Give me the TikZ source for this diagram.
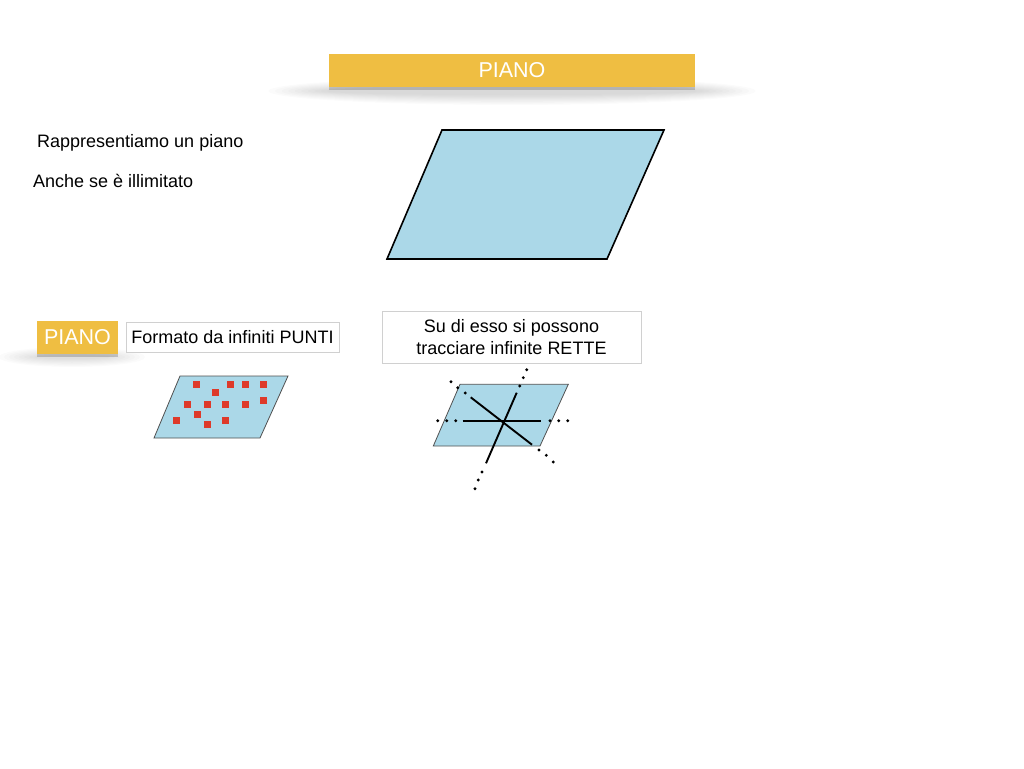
\documentclass[tikz,border=0pt]{standalone}
\usepackage{fontspec}
\setmainfont{Liberation Sans}
\definecolor{barorange}{RGB}{239,190,66}
\definecolor{planeblue}{RGB}{171,216,232}
\definecolor{planegray}{RGB}{80,80,80}
\definecolor{boxgray}{RGB}{208,208,208}
\definecolor{ptred}{RGB}{222,58,42}
\begin{document}
\begin{tikzpicture}[x=1pt,y=-1pt,
  orangebox/.style={fill=barorange, text=white, inner sep=0pt, font=\fontsize{21.5}{24}\selectfont},
  textbox/.style={draw=boxgray, line width=0.8pt, fill=white, font=\fontsize{18}{22}\selectfont, align=center, inner sep=0pt},
  plaintext/.style={anchor=base west, font=\fontsize{18}{22}\selectfont, inner sep=0pt},
  bigplane/.style={fill=planeblue, draw=black, line width=1.6pt, line join=miter},
  smallplane/.style={fill=planeblue, draw=planegray, line width=0.8pt},
  redpt/.style={fill=ptred, minimum size=7pt, inner sep=0pt},
  dotmark/.style={fill=black, circle, inner sep=0pt, minimum size=3.2pt},
  retta/.style={draw=black, line width=1.9pt}]
\useasboundingbox (0,0) rectangle (1024,768);
% title shadow
\foreach \i in {1,...,10}{
  \fill[black, opacity=0.014] (512,91) ellipse ({250-6.5*\i} and {15-1.1*\i});
}
\fill[black, opacity=0.18] (329,87) rectangle (695,89.5);
\node[orangebox, minimum width=366pt, minimum height=33pt] (title) at (512,70.5) {PIANO};

% texts
\node[plaintext] (t1) at (37,147) {Rappresentiamo un piano};
\node[plaintext] (t2) at (33,187) {Anche se è illimitato};

% big plane
\draw[bigplane] (442,130) -- (664,130) -- (607,259) -- (387,259) -- cycle;

% small PIANO label with shadow
\foreach \i in {1,...,8}{
  \fill[black, opacity=0.016] (72,357) ellipse ({78-5*\i} and {11-1.1*\i});
}
\fill[black, opacity=0.18] (37,354) rectangle (118,356.5);
\node[orangebox, minimum width=81pt, minimum height=33pt] (piano2) at (77.5,337.5) {PIANO};
\node[textbox, minimum width=213pt, minimum height=30pt] (punti) at (232.5,337) {Formato da infiniti PUNTI};
\node[textbox, minimum width=259pt, minimum height=52pt] (rette) at (511.5,337) {Su di esso si possono\\tracciare infinite RETTE};

% plane with points
\draw[smallplane] (180,376) -- (288,376) -- (260,438) -- (154,438) -- cycle;
\foreach \x/\y [count=\k] in {196.7/384, 230.7/384, 245/384, 263/384, 215.7/392,
  187.7/404.3, 207.7/404.3, 225.7/404.3, 245/404.3, 263/400.7,
  197.7/414.3, 176.7/420.7, 207.7/424, 225.7/420.7}{
  \node[redpt] (p\k) at (\x,\y) {};
}

% plane with lines
\draw[smallplane] (460,384.3) -- (568.3,384.3) -- (540,446) -- (433.3,446) -- cycle;
\coordinate (h1) at (462.7,420.7);
\coordinate (h2) at (540.7,420.7);
\coordinate (d1) at (470.7,397.3);
\coordinate (d2) at (532,444.7);
\coordinate (s1) at (516.7,392.7);
\coordinate (s2) at (486,463.3);
\draw[retta] (h1) -- (h2);
\draw[retta] (d1) -- (d2);
\draw[retta] (s1) -- (s2);
\foreach \x/\y [count=\k] in {437.7/420.7, 446.7/420.7, 455.7/420.7,
  550/420.7, 558.7/420.7, 567.7/420.7,
  451/381.7, 457.7/387.7, 465.3/393,
  539/450, 546.3/455.3, 553.3/462,
  526.7/369.7, 523.3/377.7, 519.7/386,
  482/472, 478.3/480, 475/488.7}{
  \node[dotmark] (m\k) at (\x,\y) {};
}
\end{tikzpicture}
\end{document}
